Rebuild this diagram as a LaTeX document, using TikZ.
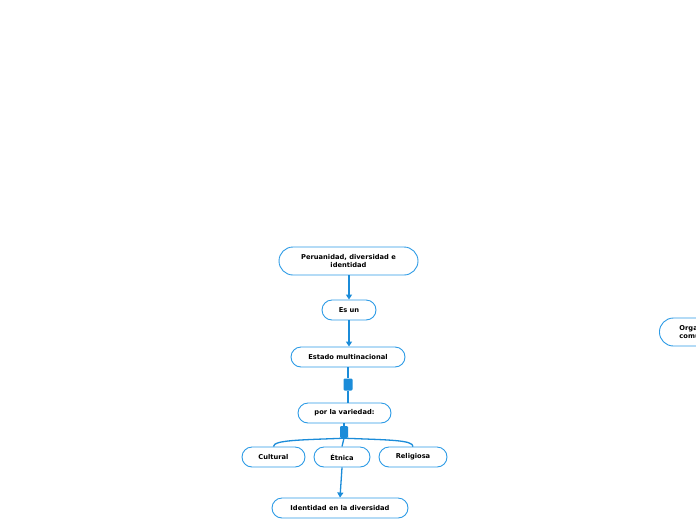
\documentclass[tikz,border=0pt]{standalone}
\usepackage{fontspec}
\setmainfont{DejaVu Sans}
\usetikzlibrary{arrows.meta}
\definecolor{lineblue}{RGB}{27,140,217}
\definecolor{boxblue}{RGB}{45,155,230}
\tikzset{
  topic/.style={draw=boxblue, line width=0.9pt, fill=white, rounded corners=10pt,
    minimum height=20pt, inner sep=0pt, font=\fontsize{6.7}{8.5}\selectfont\bfseries, align=center},
  conn/.style={draw=lineblue, line width=1.3pt},
  arr/.style={conn, -{Triangle[width=6pt,length=5pt]}},
  joint/.style={fill=lineblue, rounded corners=1.2pt, minimum width=9pt, minimum height=12pt, inner sep=0pt}
}
\begin{document}
\begin{tikzpicture}[x=1pt,y=-1pt]
\useasboundingbox[fill=white] (0,0) rectangle (696,520);
\node[topic, minimum width=139pt, minimum height=28pt, rounded corners=14pt] (top) at (348.5,261) {Peruanidad, diversidad e\\identidad};
\node[topic, minimum width=54pt] (esun) at (349,310) {Es un};
\node[topic, minimum width=114pt] (estado) at (348,357) {Estado multinacional};
\node[joint] (j1) at (348,384.5) {};
\node[topic, minimum width=93pt] (por) at (344.5,413) {por la variedad:};
\node[joint, minimum width=8pt] (j2) at (344,432) {};
\node[topic, minimum width=63pt] (cult) at (273.5,457) {Cultural};
\node[topic, minimum width=56pt] (etn) at (342,457) {Étnica};
\node[topic, minimum width=68pt] (rel) at (413,457) {Religiosa};
\node[topic, minimum width=136pt] (iden) at (340,508) {Identidad en la diversidad};
\node[topic, minimum height=28pt, rounded corners=14pt, anchor=west, inner xsep=20pt, align=left] (org) at (659,332) {Organización\\comunal};

\draw[arr] (top.south -| 349,0) -- (esun.north);
\draw[arr] (esun.south) -- (estado.north -| esun.south);
\draw[conn] (estado.south) -- (j1.north);
\draw[conn] (j1.south) -- (por.north -| j1.south);
\draw[conn] (por.south -| j2.north) -- (j2.north);
\draw[conn] (j2.south) .. controls (300,440) and (273.5,440) .. (cult.north);
\draw[conn] (j2.south) .. controls (390,440) and (413,440) .. (rel.north);
\draw[conn] (j2.south) -- (etn.north);
\draw[arr] (etn.south) -- (iden.north);
\end{tikzpicture}
\end{document}
